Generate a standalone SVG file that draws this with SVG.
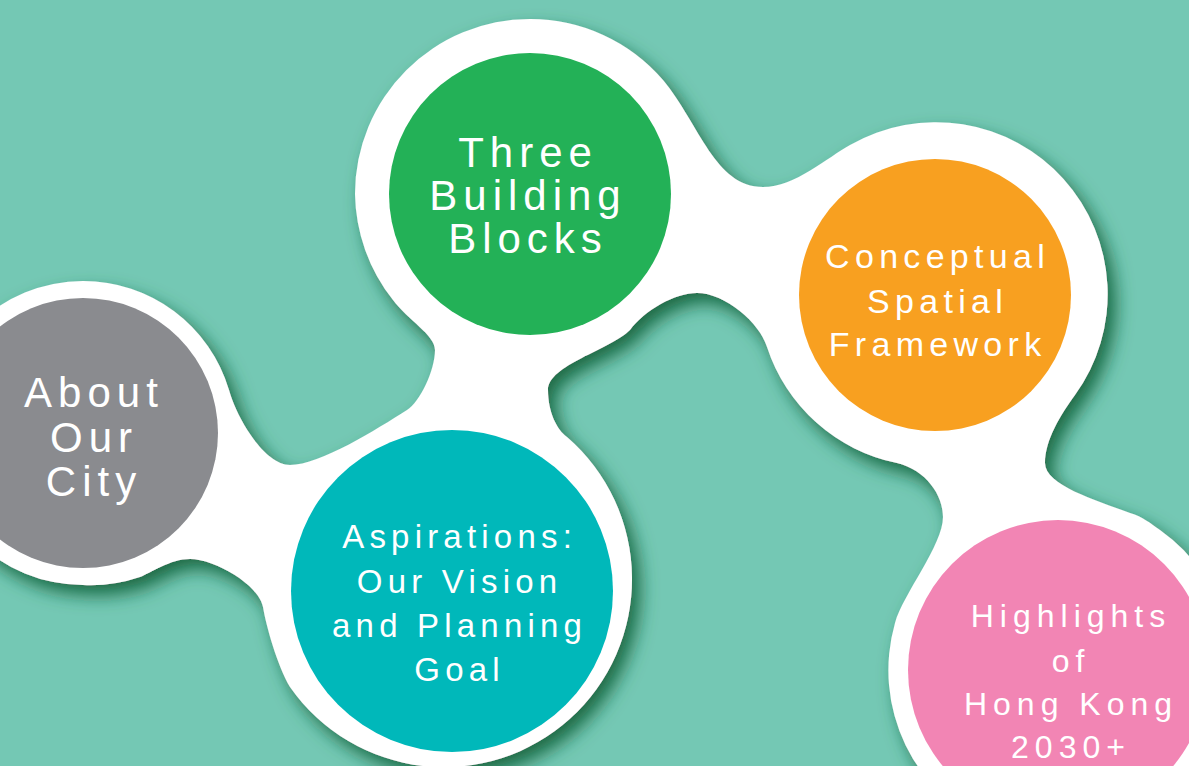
<svg xmlns="http://www.w3.org/2000/svg" width="1189" height="766" viewBox="0 0 1189 766">
  <defs>
    <style>
      .lbl { font-family: "Liberation Sans", Arial, sans-serif; fill: #ffffff; text-anchor: middle; }
      .big { font-size: 42px; letter-spacing: 6px; }
      .mid { font-size: 33px; letter-spacing: 5.2px; }
      .org { font-size: 34px; letter-spacing: 5.3px; }
      .pnk { font-size: 32px; letter-spacing: 6px; }
    </style>
    <filter id="shadow" x="-20%" y="-20%" width="140%" height="140%">
      <feDropShadow dx="8" dy="10" stdDeviation="9" flood-color="#17663f" flood-opacity="0.95"/>
    </filter>
  </defs>
  <rect width="1189" height="766" fill="#74c8b4"/>
  <g id="connectors">
    <path id="blob" filter="url(#shadow)" fill="#ffffff" d="
      M-69,433 A152,152 0 0 1 83,281 A152,152 0 0 1 229,390
      C237,419 265,465 290,465
      C320,465 377,429 407,410
      C420,402 435,370 435,350
      C435,335 408,320 393,300
      A175,175 0 0 1 355,194 A175,175 0 0 1 530,19 A175,175 0 0 1 663,80
      C700,125 715,187 763,187
      C795,187 828,157 850,145
      A172,172 0 0 1 1075,395
      C1060.5,415 1045,440 1045,463
      C1045,485 1095,500 1130,513
      C1143,517 1150,523 1160,530
      A172,172 0 1 1 895,623
      C903,594 943,545 943,517
      C943,495 926,470 897,463
      A173,173 0 0 1 767,347
      C760,323 725,293 697,293
      C675,293 645,310 630,330
      C610,350 548,365 548,390
      C548,412 557,430 567,437
      A188,188 0 1 1 290,687
      C277,665 266,625 263,607
      C259,585 215,559 190,559
      C170,559 151,573 140,577
      A152,152 0 0 1 83,585 A152,152 0 0 1 -69,433 Z"/>
  </g>
  <g id="about">
    <circle cx="83" cy="433" r="135" fill="#8a8b8f"/>
    <text class="lbl big" x="94" y="407">About</text>
    <text class="lbl big" x="94" y="452">Our</text>
    <text class="lbl big" x="94" y="496">City</text>
  </g>
  <g id="building">
    <circle cx="530" cy="194" r="141" fill="#23b157"/>
    <text class="lbl big" x="528" y="167">Three</text>
    <text class="lbl big" x="528" y="210">Building</text>
    <text class="lbl big" x="528" y="253">Blocks</text>
  </g>
  <g id="aspirations">
    <circle cx="452" cy="591" r="161" fill="#00b8ba"/>
    <text class="lbl mid" x="459.6" y="548">Aspirations:</text>
    <text class="lbl mid" x="459.6" y="593">Our Vision</text>
    <text class="lbl mid" x="459.6" y="637">and Planning</text>
    <text class="lbl mid" x="459.6" y="681">Goal</text>
  </g>
  <g id="framework">
    <circle cx="935" cy="295" r="136" fill="#f8a020"/>
    <text class="lbl org" x="937.6" y="268">Conceptual</text>
    <text class="lbl org" x="937.6" y="313">Spatial</text>
    <text class="lbl org" x="937.6" y="356">Framework</text>
  </g>
  <g id="highlights">
    <circle cx="1058" cy="670" r="150" fill="#f285b4"/>
    <text class="lbl pnk" x="1071" y="627">Highlights</text>
    <text class="lbl pnk" x="1071" y="672">of</text>
    <text class="lbl pnk" x="1071" y="715">Hong Kong</text>
    <text class="lbl pnk" x="1071" y="758">2030+</text>
  </g>
</svg>
